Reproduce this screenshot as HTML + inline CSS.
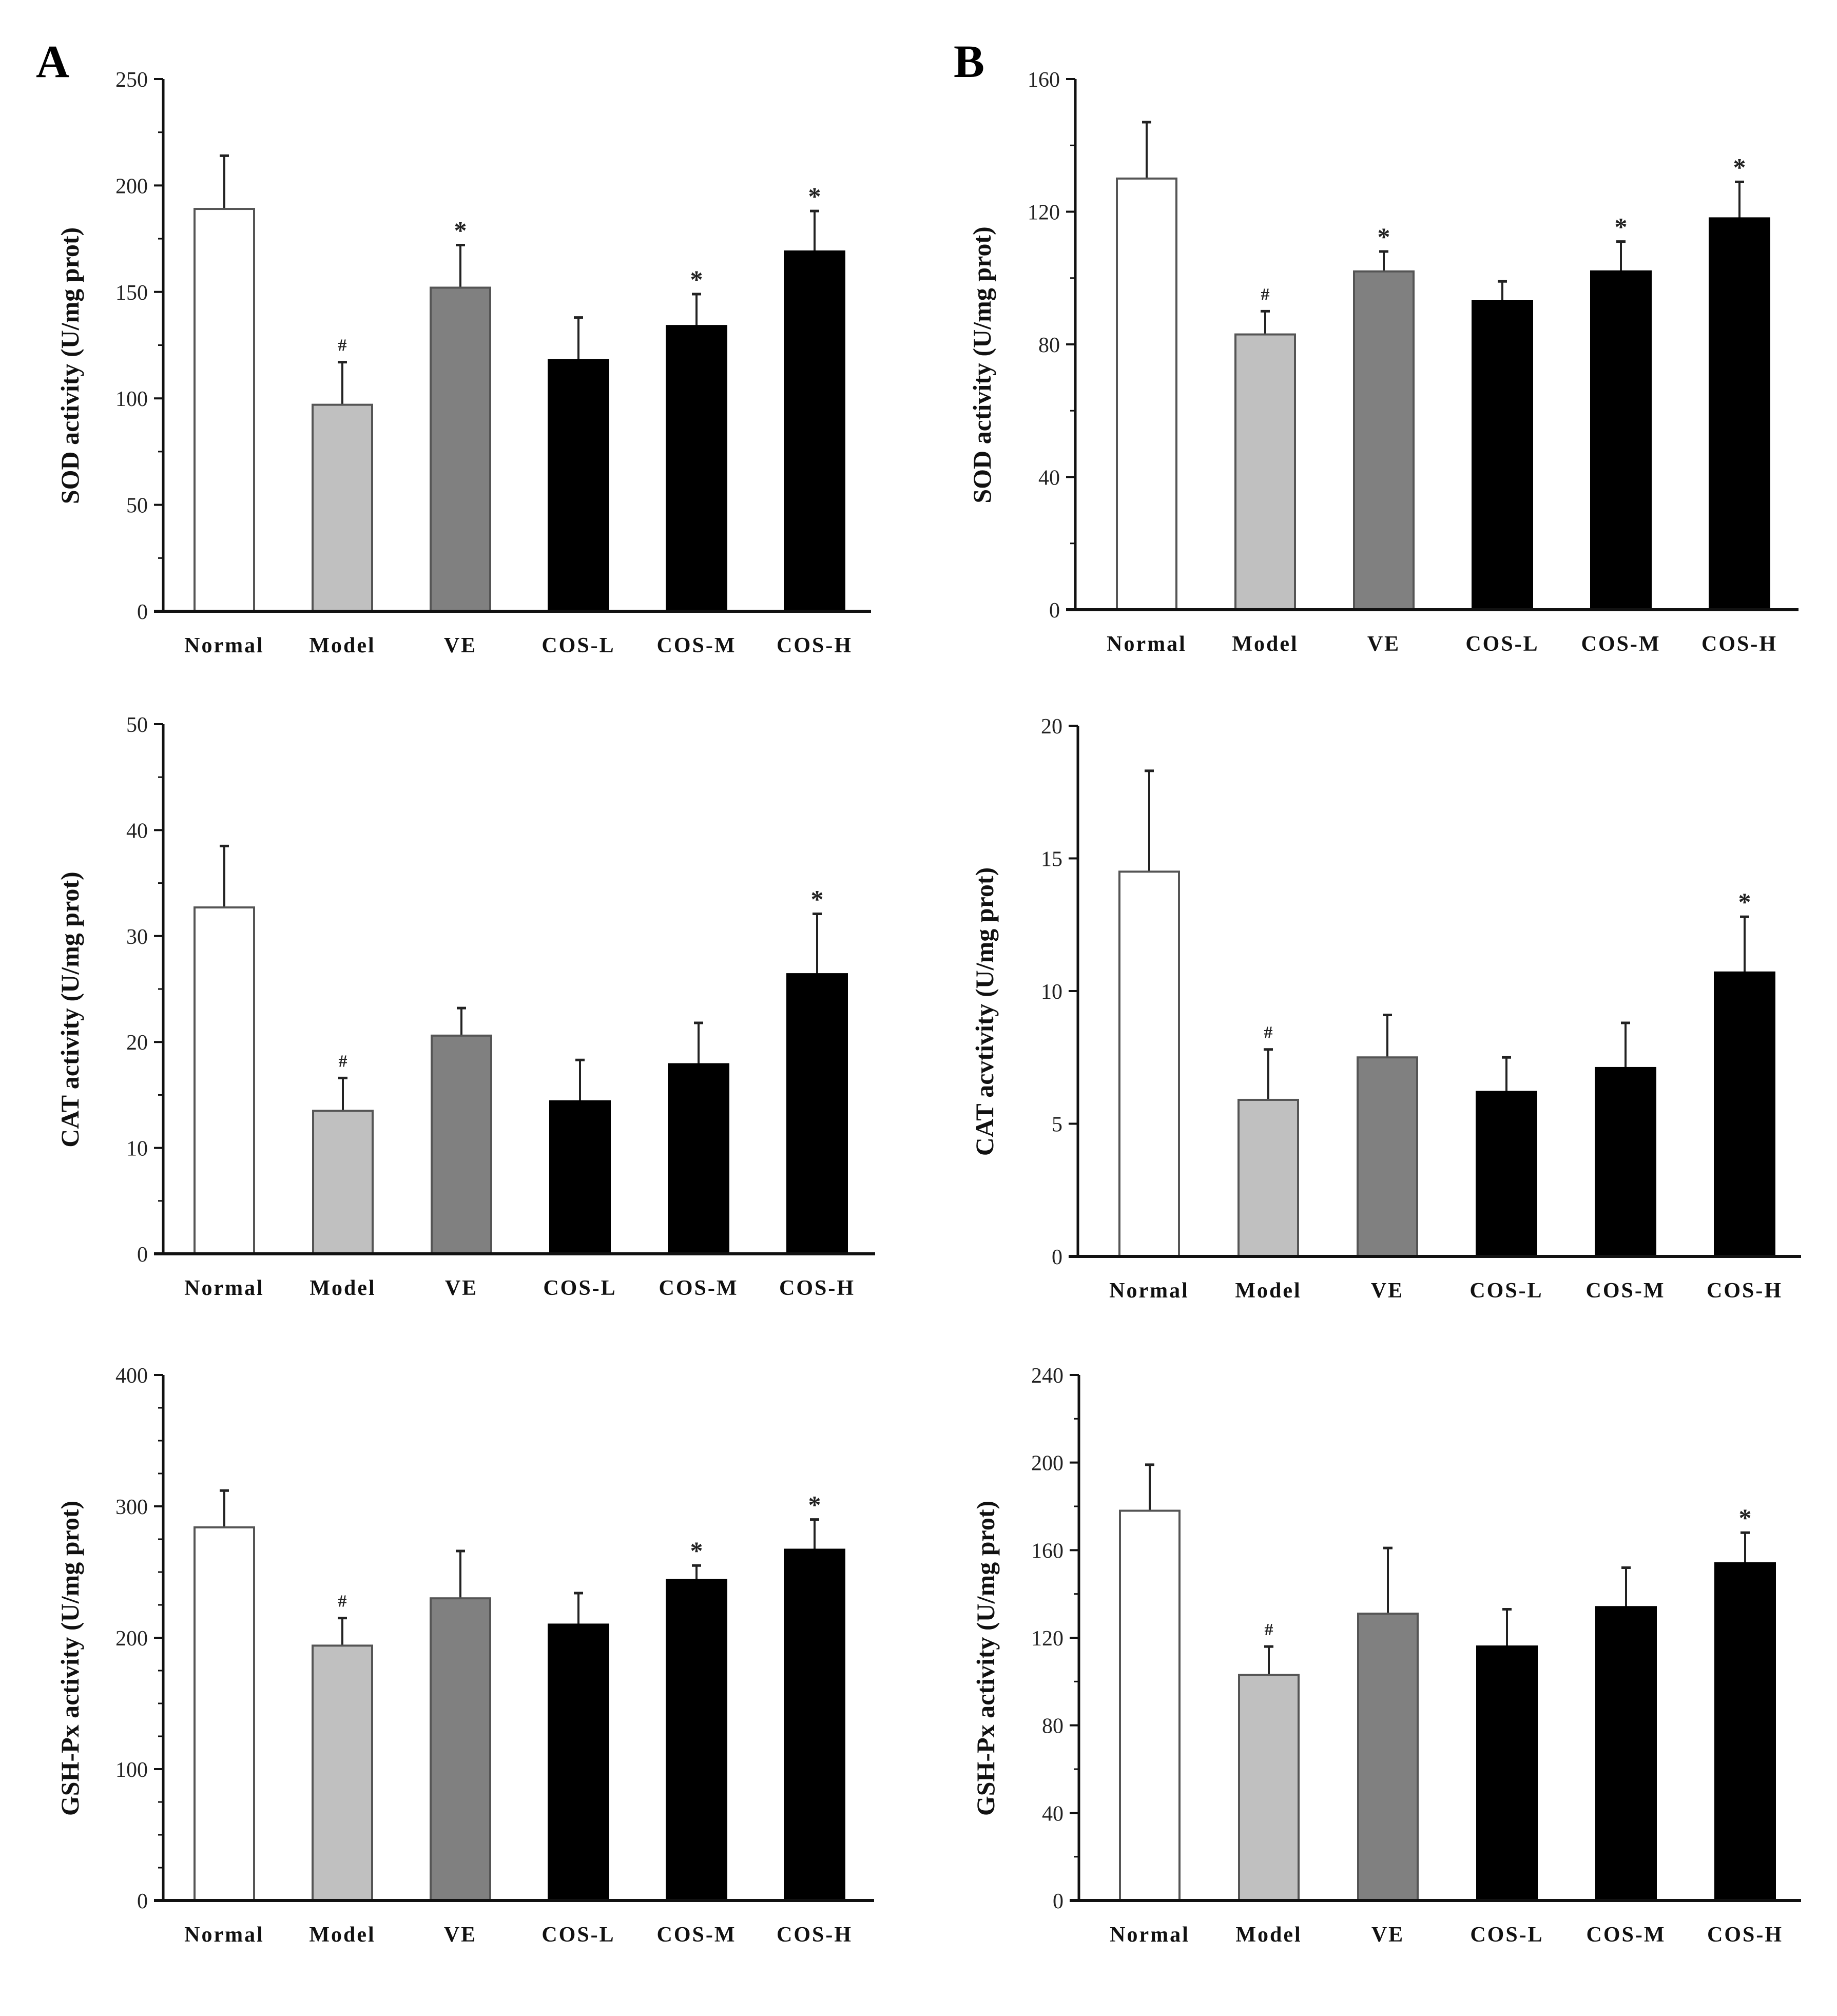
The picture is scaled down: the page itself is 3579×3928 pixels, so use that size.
<!DOCTYPE html>
<html><head><meta charset="utf-8">
<style>
body{margin:0;background:#fff;}
svg{display:block;}
</style></head>
<body>
<svg id="fig" width="3579" height="3928" viewBox="0 0 3579 3928" xmlns="http://www.w3.org/2000/svg">
<rect width="3579" height="3928" fill="#fff"/>
<text x="70" y="150" font-family="Liberation Serif, serif" font-weight="bold" font-size="90">A</text>
<text x="1858" y="150" font-family="Liberation Serif, serif" font-weight="bold" font-size="90">B</text>
</svg>
<script>
const categories = ["Normal","Model","VE","COS-L","COS-M","COS-H"];
const sodA = [189,97,152,118,134,169];
const sodAErr = [214,117,172,138,149,188];
const catA = [32.7,13.5,20.6,14.4,17.9,26.4];
const catAErr = [38.5,16.6,23.2,18.3,21.8,32.1];
const gshA = [284,194,230,210,244,267];
const gshAErr = [312,215,266,234,255,290];
const sodB = [130,83,102,93,102,118];
const sodBErr = [147,90,108,99,111,129];
const catB = [14.5,5.9,7.5,6.2,7.1,10.7];
const catBErr = [18.3,7.8,9.1,7.5,8.8,12.8];
const gshB = [178,103,131,116,134,154];
const gshBErr = [199,116,161,133,152,168];
const sodAMarks = ["","#","*","","*","*"];
const catAMarks = ["","#","","","","*"];
const gshAMarks = ["","#","","","*","*"];
const sodBMarks = ["","#","*","","*","*"];
const catBMarks = ["","#","","","","*"];
const gshBMarks = ["","#","","","","*"];
const sodATicks = [0,50,100,150,200,250];
const catATicks = [0,10,20,30,40,50];
const gshATicks = [0,100,200,300,400];
const sodBTicks = [0,40,80,120,160];
const catBTicks = [0,5,10,15,20];
const gshBTicks = [0,40,80,120,160,200,240];

const NS="http://www.w3.org/2000/svg";
const svg=document.getElementById('fig');
const fills=["#ffffff","#c0c0c0","#808080","#000000","#000000","#000000"];
function mk(tag,attrs,parent){const e=document.createElementNS(NS,tag);for(const k in attrs)e.setAttribute(k,attrs[k]);(parent||svg).appendChild(e);return e;}

const panels=[
 {id:"sod-a",vals:sodA,errs:sodAErr,marks:sodAMarks,ticks:sodATicks,minor:25,ax:318,top:154,base:1191,right:1697,c0:437,step:230,title:"SOD activity (U/mg prot)"},
 {id:"cat-a",vals:catA,errs:catAErr,marks:catAMarks,ticks:catATicks,minor:5,ax:318,top:1411,base:2443,right:1705,c0:437,step:231,title:"CAT activity (U/mg prot)"},
 {id:"gsh-a",vals:gshA,errs:gshAErr,marks:gshAMarks,ticks:gshATicks,minor:25,ax:318,top:2679,base:3703,right:1703,c0:437,step:230,title:"GSH-Px activity (U/mg prot)"},
 {id:"sod-b",vals:sodB,errs:sodBErr,marks:sodBMarks,ticks:sodBTicks,minor:20,ax:2095,top:154,base:1188,right:3504,c0:2234,step:231,title:"SOD activity (U/mg prot)"},
 {id:"cat-b",vals:catB,errs:catBErr,marks:catBMarks,ticks:catBTicks,minor:0,ax:2100,top:1414,base:2448,right:3509,c0:2239,step:232,title:"CAT acvtivity (U/mg prot)"},
 {id:"gsh-b",vals:gshB,errs:gshBErr,marks:gshBMarks,ticks:gshBTicks,minor:20,ax:2102,top:2679,base:3703,right:3509,c0:2240,step:232,title:"GSH-Px activity (U/mg prot)"}
];

panels.forEach(p=>{
 const g=mk('g',{});
 
 
 const ymax=p.ticks[p.ticks.length-1];
 const y=v=>p.base-(v/ymax)*(p.base-p.top);
 const x=i=>p.c0+i*p.step;
 const bw=116;
 p.vals.forEach((v,i)=>{
  const e=p.errs[i];
  const eb=mk('line',{x1:x(i),x2:x(i),y1:y(v),y2:y(e),stroke:"#222","stroke-width":4},g);
  
  
  const cap=mk('line',{x1:x(i)-9,x2:x(i)+9,y1:y(e),y2:y(e),stroke:"#222","stroke-width":5},g);
  
  
  const r=mk('rect',{x:x(i)-bw/2,y:y(v),width:bw,height:p.base-y(v),fill:fills[i],stroke:i<3?"#555":"#000","stroke-width":4},g);
  
  
  if(p.marks[i]){
   const m=mk('text',{x:x(i),y:y(e)-(p.marks[i]=="*"?12:22),"text-anchor":"middle","font-family":"Liberation Serif, serif","font-weight":"bold","font-size":p.marks[i]=="*"?50:34,fill:"#222"},g);
   m.textContent=p.marks[i];
   
   
  }
  const t=mk('text',{x:x(i),y:p.base+80,"text-anchor":"middle","font-family":"Liberation Serif, serif","font-weight":"bold","font-size":42,"letter-spacing":"3",fill:"#111"},g);
  t.textContent=categories[i];
  
  
 });
 const ya=mk('line',{x1:p.ax,x2:p.ax,y1:p.top,y2:p.base,stroke:"#111","stroke-width":5},g);
 
 
 const xa=mk('line',{x1:p.ax-18,x2:p.right,y1:p.base,y2:p.base,stroke:"#111","stroke-width":6},g);
 
 
 p.ticks.forEach(t=>{
  const tk=mk('line',{x1:p.ax-18,x2:p.ax,y1:y(t),y2:y(t),stroke:"#111","stroke-width":4},g);
  
  
  const tl=mk('text',{x:p.ax-30,y:y(t)+15,"text-anchor":"end","font-family":"Liberation Serif, serif","font-size":42,fill:"#222"},g);
  tl.textContent=t;
  
  
 });
 if(p.minor){
  for(let v=p.minor;v<ymax;v+=p.minor){
   if(p.ticks.includes(v))continue;
   const mt=mk('line',{x1:p.ax-10,x2:p.ax,y1:y(v),y2:y(v),stroke:"#111","stroke-width":3},g);
   
   
  }
 }
 const cy=(p.top+p.base)/2+40;
 const tx=p.ax-165;
 const tt=mk('text',{x:tx,y:cy,transform:`rotate(-90 ${tx} ${cy})`,"text-anchor":"middle","font-family":"Liberation Serif, serif","font-weight":"bold","font-size":50,fill:"#111"},g);
 tt.textContent=p.title;
 
 
});
</script>
</body></html>
